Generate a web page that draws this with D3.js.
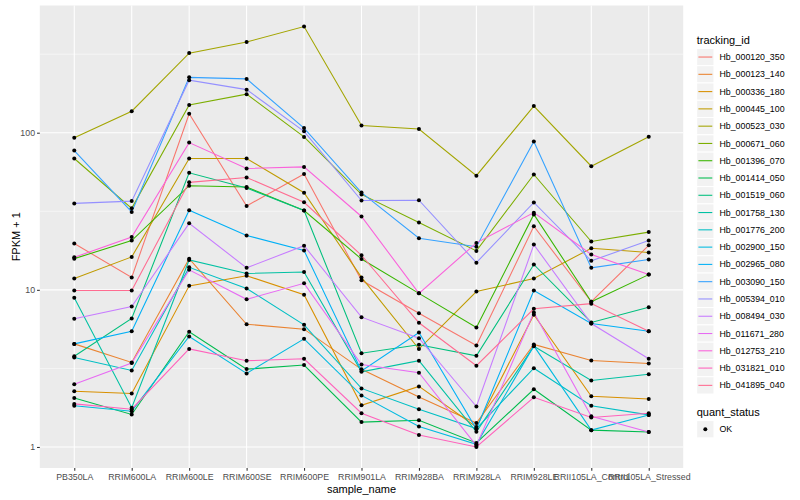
<!DOCTYPE html>
<html>
<head>
<meta charset="utf-8">
<script src="https://cdn.jsdelivr.net/npm/d3@7"></script>
<style>
    body { margin: 0; background: white; }
    text { font-family: "Liberation Sans", Arial, sans-serif; }
</style>
</head>
<body>
<div id="chart"></div>
<script>
const sampleNames = ['PB350LA', 'RRIM600LA', 'RRIM600LE', 'RRIM600SE', 'RRIM600PE', 'RRIM901LA',
    'RRIM928BA', 'RRIM928LA', 'RRIM928LE', 'RRII105LA_Control', 'RRII105LA_Stressed'];

const trackingIds = ['Hb_000120_350', 'Hb_000123_140', 'Hb_000336_180', 'Hb_000445_100', 'Hb_000523_030',
    'Hb_000671_060', 'Hb_001396_070', 'Hb_001414_050', 'Hb_001519_060', 'Hb_001758_130', 'Hb_001776_200',
    'Hb_002900_150', 'Hb_002965_080', 'Hb_003090_150', 'Hb_005394_010', 'Hb_008494_030', 'Hb_011671_280',
    'Hb_012753_210', 'Hb_031821_010', 'Hb_041895_040'];

// ggplot default hue palette, one colour per tracking_id
const trackingColors = ['#F8766D', '#EA8331', '#D89000', '#C09B00', '#A3A500', '#7CAE00', '#39B600', '#00BB4E',
    '#00BF7D', '#00C1A3', '#00BFC4', '#00BAE0', '#00B0F6', '#35A2FF', '#9590FF', '#C77CFF', '#E76BF3',
    '#FA62DB', '#FF62BC', '#FF6C91'];

// FPKM + 1, one value per sample_name
const hb_000120_350 = [19.7, 12.0, 132, 34.2, 54.6, 11.5, 7.1, 4.42, 25.4, 8.4, 19.2];
const hb_000123_140 = [4.53, 3.45, 15.8, 6.04, 5.62, 3.12, 2.08, 1.42, 4.49, 3.55, 3.4];
const hb_000336_180 = [2.26, 2.19, 10.6, 12.3, 9.3, 1.84, 2.43, 1.34, 6.95, 2.1, 2.02];
const hb_000445_100 = [11.8, 16.2, 68.5, 68.5, 41.5, 12.0, 4.2, 9.75, 11.8, 18.4, 17.3];
const hb_000523_030 = [93, 137, 321, 378, 474, 111, 105.6, 53.3, 147.7, 61.2, 94.3];
const hb_000671_060 = [68.5, 33.0, 150, 176, 94, 40.5, 26.8, 17.7, 54.2, 20.3, 23.3];
const hb_001396_070 = [15.8, 20.6, 46, 45.1, 32.0, 15.7, 9.5, 5.76, 30.2, 8.4, 12.5];
const hb_001414_050 = [2.05, 1.61, 5.41, 3.13, 3.32, 1.44, 1.48, 1.06, 2.33, 1.28, 1.245];
const hb_001519_060 = [3.78, 6.57, 55.6, 44.5, 32.0, 3.95, 4.47, 3.8, 14.5, 6.2, 7.75];
const hb_001758_130 = [8.9, 1.78, 15.5, 12.7, 13.0, 3.01, 3.54, 1.25, 4.37, 2.65, 2.9];
const hb_001776_200 = [3.71, 3.07, 13.9, 10.2, 5.99, 2.36, 1.74, 1.31, 3.17, 1.83, 1.6];
const hb_002900_150 = [1.83, 1.69, 5.05, 2.94, 4.88, 2.13, 1.35, 1.04, 4.4, 1.28, 1.6];
const hb_002965_080 = [4.53, 5.45, 32.1, 22.2, 17.8, 3.05, 5.35, 1.3, 9.9, 6.1, 5.45];
const hb_003090_150 = [77, 31.3, 225, 220, 107, 41.6, 21.3, 18.8, 88, 13.8, 15.6];
const hb_005394_010 = [35.5, 36.7, 216, 188, 102, 37.0, 37.2, 14.9, 36, 15.3, 20.6];
const hb_008494_030 = [6.54, 7.82, 26.5, 13.8, 19.1, 6.7, 4.92, 1.81, 19.4, 6.1, 3.64];
const hb_011671_280 = [2.51, 3.42, 13.4, 8.7, 11.0, 3.35, 2.97, 1.02, 7.17, 1.57, 1.245];
const hb_012753_210 = [16.1, 21.7, 86.5, 59.2, 60.6, 29.3, 9.5, 19.9, 31.0, 16.8, 12.5];
const hb_031821_010 = [1.88, 1.74, 4.21, 3.54, 3.64, 1.64, 1.19, 1.0, 2.07, 1.54, 1.64];
const hb_041895_040 = [9.9, 9.9, 48.3, 51.9, 36.1, 16.6, 6.17, 3.29, 7.57, 8.17, 5.45];

const yTicks = [1, 10, 100];
const quantStatus = ['OK'];

function lineChart() {
    const width = 800, height = 500;
    const panel = {left: 39.8, top: 5.5, right: 683.2, bottom: 468};

    const series = [hb_000120_350, hb_000123_140, hb_000336_180, hb_000445_100, hb_000523_030, hb_000671_060,
        hb_001396_070, hb_001414_050, hb_001519_060, hb_001758_130, hb_001776_200, hb_002900_150, hb_002965_080,
        hb_003090_150, hb_005394_010, hb_008494_030, hb_011671_280, hb_012753_210, hb_031821_010, hb_041895_040]
        .map((values, i) => ({
            id: trackingIds[i],
            color: trackingColors[i],
            points: values.map((v, j) => ({sample: sampleNames[j], value: v}))
        }));

    const svg = d3.select("#chart")
        .append("svg")
        .attr("width", width)
        .attr("height", height);

    // log10 scale with ggplot's 5% expansion
    const allValues = series.flatMap(s => s.points.map(p => p.value));
    const lo = Math.log10(d3.min(allValues)), hi = Math.log10(d3.max(allValues));
    const pad = (hi - lo) * 0.05;
    const y = d3.scaleLog()
        .domain([Math.pow(10, lo - pad), Math.pow(10, hi + pad)])
        .range([panel.bottom, panel.top]);

    const x = d3.scalePoint()
        .domain(sampleNames)
        .range([panel.left, panel.right])
        .padding(0.6);

    // panel background
    svg.append("rect")
        .attr("x", panel.left)
        .attr("y", panel.top)
        .attr("width", panel.right - panel.left)
        .attr("height", panel.bottom - panel.top)
        .attr("fill", "#EBEBEB");

    // minor gridlines half way between decades
    const minor = d3.range(yTicks.length).map(i => Math.sqrt(yTicks[i] * yTicks[i] * 10))
        .filter(v => v <= y.domain()[1]);
    svg.append("g").selectAll("line")
        .data(minor)
        .enter()
        .append("line")
        .attr("x1", panel.left).attr("x2", panel.right)
        .attr("y1", d => y(d)).attr("y2", d => y(d))
        .attr("stroke", "white")
        .attr("stroke-width", 0.53);

    svg.append("g").selectAll("line")
        .data(yTicks)
        .enter()
        .append("line")
        .attr("x1", panel.left).attr("x2", panel.right)
        .attr("y1", d => y(d)).attr("y2", d => y(d))
        .attr("stroke", "white")
        .attr("stroke-width", 1.07);

    svg.append("g").selectAll("line")
        .data(sampleNames)
        .enter()
        .append("line")
        .attr("x1", d => x(d)).attr("x2", d => x(d))
        .attr("y1", panel.top).attr("y2", panel.bottom)
        .attr("stroke", "white")
        .attr("stroke-width", 1.07);

    // axes
    const yAxis = svg.append("g")
        .attr("transform", `translate(${panel.left}, 0)`)
        .call(d3.axisLeft(y).tickValues(yTicks).tickFormat(d3.format("d")).tickSize(2.75).tickPadding(2));
    const xAxis = svg.append("g")
        .attr("transform", `translate(0, ${panel.bottom})`)
        .call(d3.axisBottom(x).tickSize(2.75).tickPadding(3));
    [xAxis, yAxis].forEach(function(ax) {
        ax.select(".domain").remove();
        ax.selectAll(".tick line").attr("stroke", "#333333").attr("stroke-width", 1.07);
        ax.selectAll(".tick text")
            .attr("fill", "#4D4D4D")
            .style("font-size", "8.8px")
            .style("font-family", '"Liberation Sans", Arial, sans-serif');
    });

    svg.append("text")
        .attr("x", (panel.left + panel.right) / 2)
        .attr("y", 493)
        .attr("text-anchor", "middle")
        .style("font-size", "11px")
        .text("sample_name");

    svg.append("text")
        .attr("transform", `translate(19.5, ${(panel.top + panel.bottom) / 2}) rotate(-90)`)
        .attr("text-anchor", "middle")
        .style("font-size", "11px")
        .text("FPKM + 1");

    // lines
    const line = d3.line()
        .x(d => x(d.sample))
        .y(d => y(d.value));

    svg.append("g").selectAll("path")
        .data(series)
        .enter()
        .append("path")
        .attr("d", d => line(d.points))
        .attr("fill", "none")
        .attr("stroke", d => d.color)
        .attr("stroke-width", 1.07);

    // points
    svg.append("g").selectAll("circle")
        .data(series.flatMap(s => s.points))
        .enter()
        .append("circle")
        .attr("cx", d => x(d.sample))
        .attr("cy", d => y(d.value))
        .attr("r", 2)
        .attr("fill", "black");

    // legend
    const legend = svg.append("g");
    const keySize = 17.28;
    const legendX = 696.7;

    legend.append("text")
        .attr("x", legendX)
        .attr("y", 44)
        .style("font-size", "11px")
        .text("tracking_id");

    const keys = legend.selectAll(".key")
        .data(series)
        .enter()
        .append("g")
        .attr("transform", (d, i) => `translate(${legendX}, ${48.4 + i * keySize})`);
    keys.append("rect")
        .attr("width", keySize)
        .attr("height", keySize)
        .attr("fill", "#F2F2F2")
        .attr("stroke", "white");
    keys.append("line")
        .attr("x1", 1.7).attr("x2", keySize - 1.7)
        .attr("y1", keySize / 2).attr("y2", keySize / 2)
        .attr("stroke", d => d.color)
        .attr("stroke-width", 1.07);
    keys.append("text")
        .attr("x", keySize + 5.5)
        .attr("y", keySize / 2 + 3.1)
        .style("font-size", "8.8px")
        .text(d => d.id);

    legend.append("text")
        .attr("x", legendX)
        .attr("y", 416)
        .style("font-size", "11px")
        .text("quant_status");

    const okKeys = legend.selectAll(".ok")
        .data(quantStatus)
        .enter()
        .append("g")
        .attr("transform", (d, i) => `translate(${legendX}, ${420.6 + i * keySize})`);
    okKeys.append("rect")
        .attr("width", keySize)
        .attr("height", keySize)
        .attr("fill", "#F2F2F2")
        .attr("stroke", "white");
    okKeys.append("circle")
        .attr("cx", keySize / 2)
        .attr("cy", keySize / 2)
        .attr("r", 2)
        .attr("fill", "black");
    okKeys.append("text")
        .attr("x", keySize + 5.5)
        .attr("y", keySize / 2 + 3.1)
        .style("font-size", "8.8px")
        .text(d => d);
}

function main() {
    lineChart();
}

main();
</script>
</body>
</html>
